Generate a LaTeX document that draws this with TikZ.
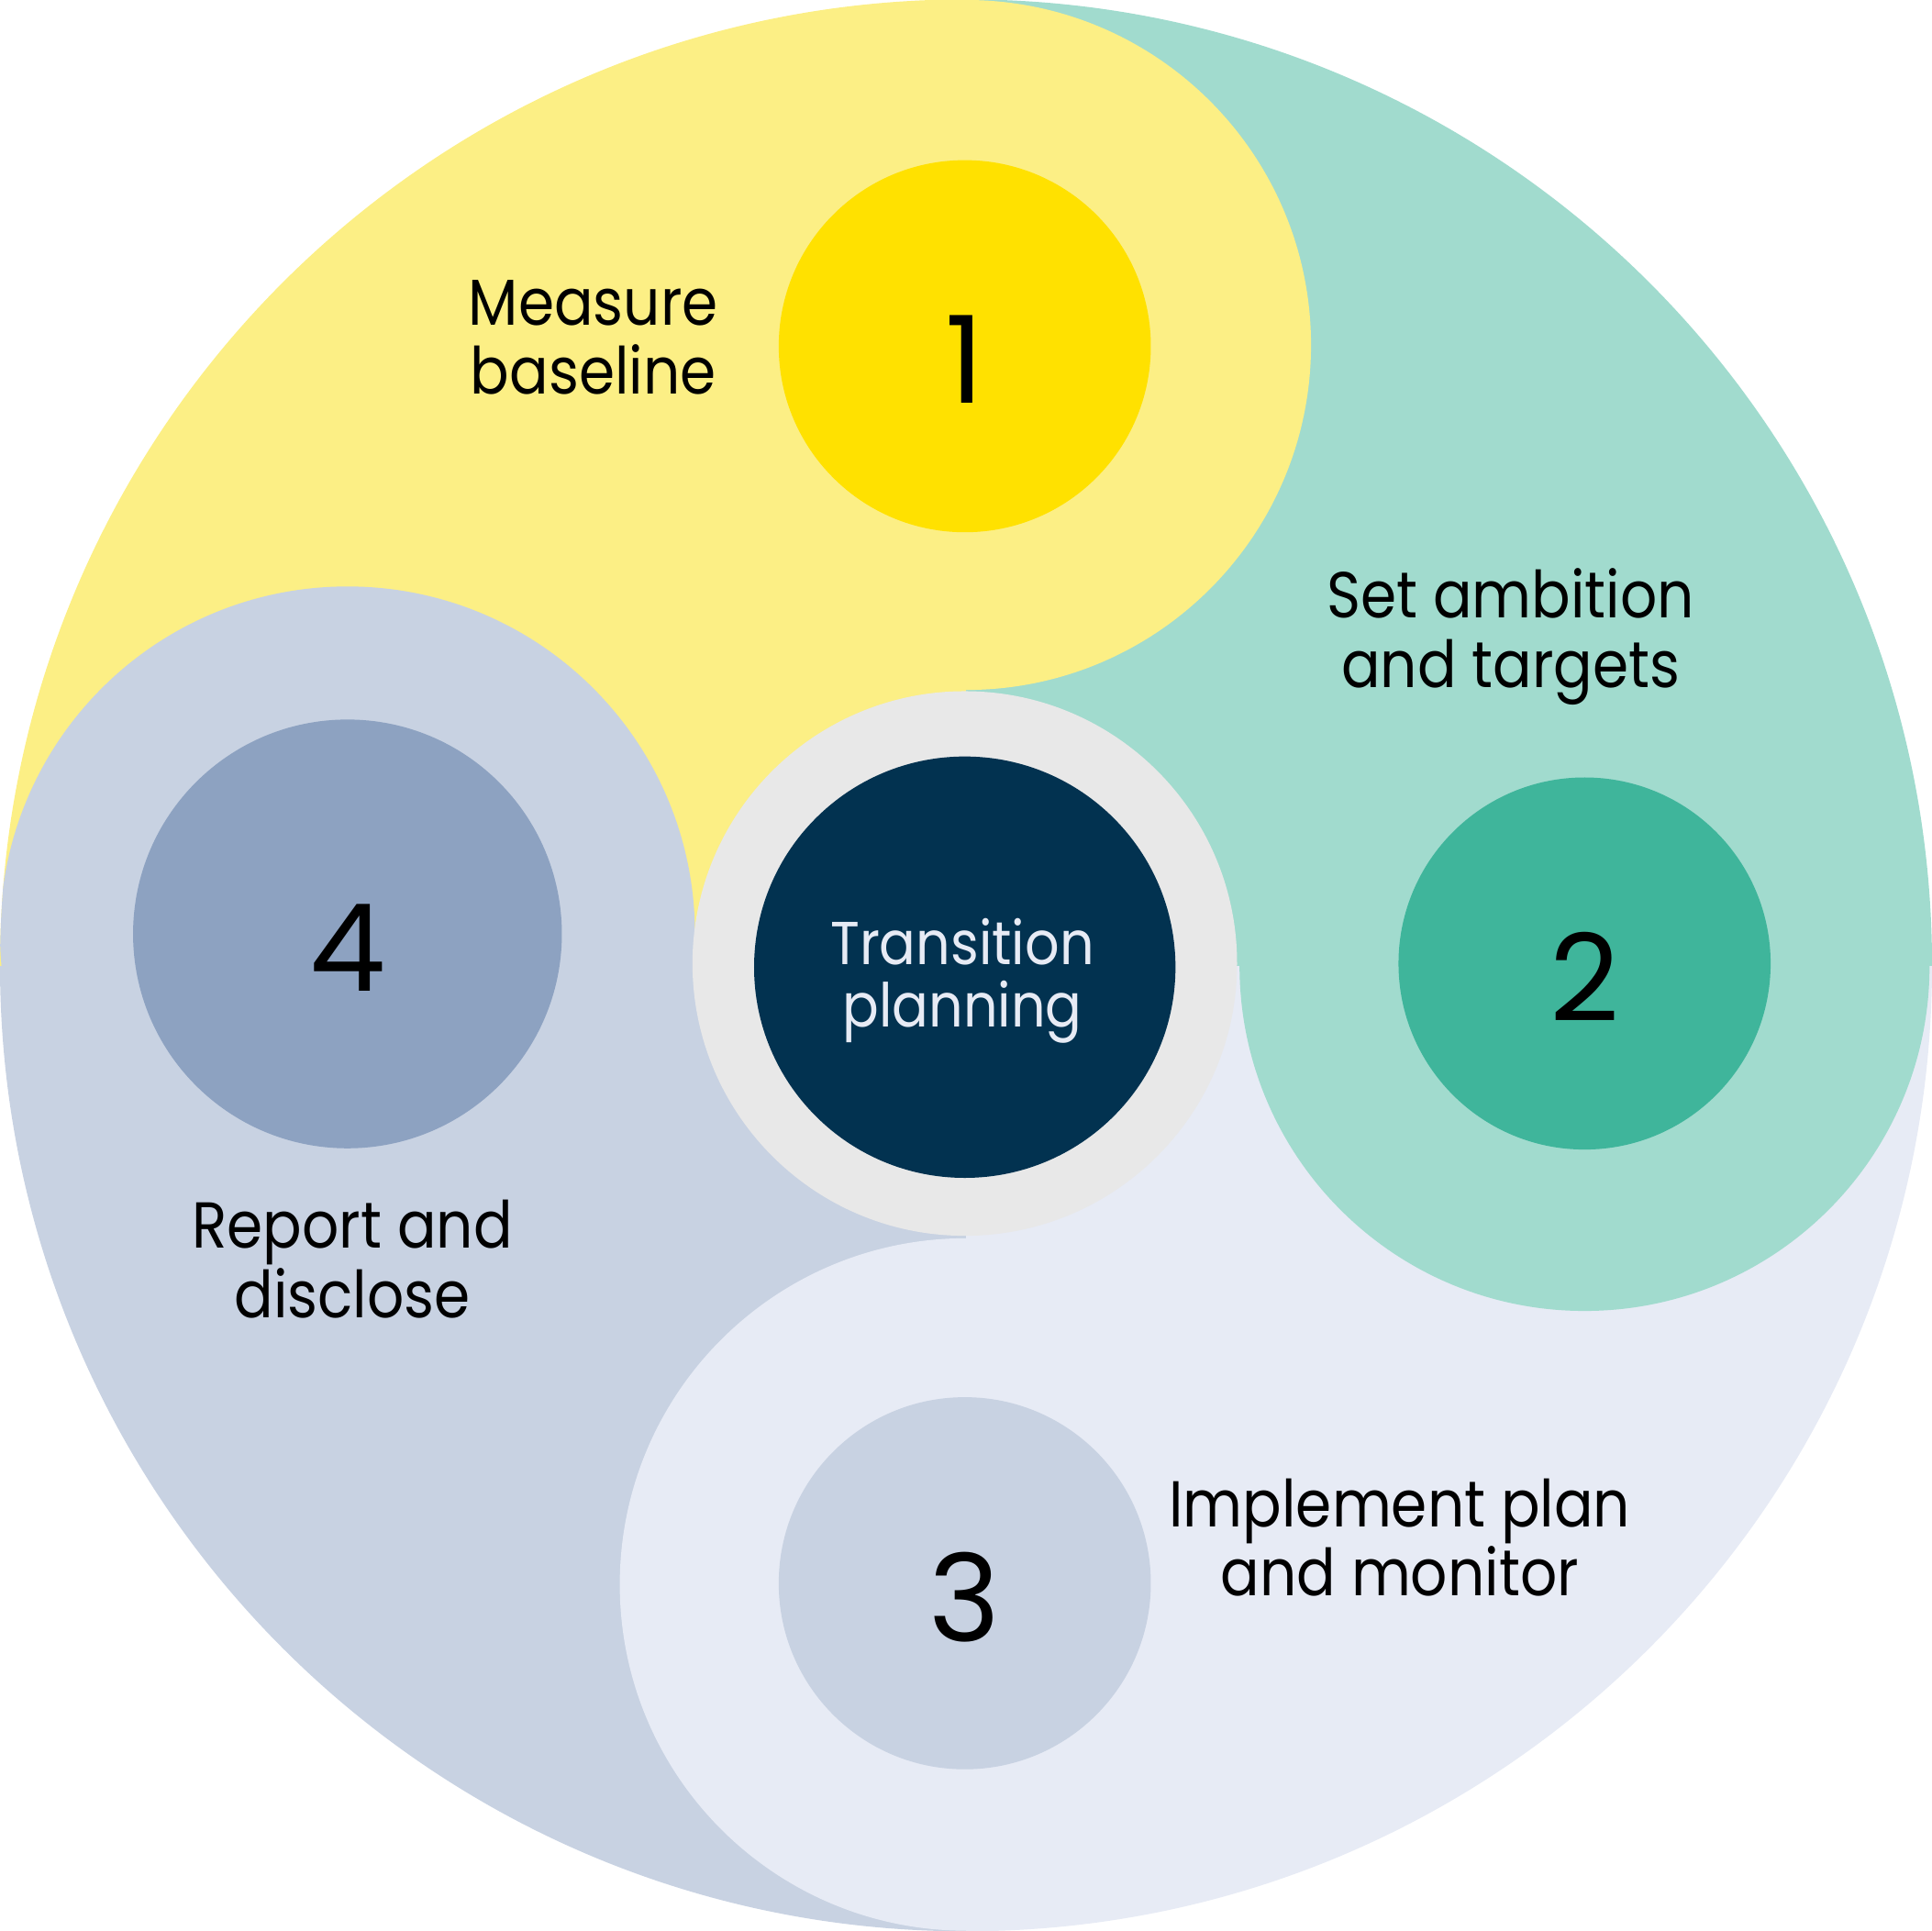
\documentclass[tikz,border=0pt]{standalone}
\usepackage{fontspec}
\setmainfont{Poppins}
\newfontfamily\labelfont[FakeStretch=0.89]{Poppins}
\usetikzlibrary{positioning}
\definecolor{yellowbg}{HTML}{FCEF85}
\definecolor{yellowdot}{HTML}{FFE100}
\definecolor{tealbg}{HTML}{A1DBCE}
\definecolor{tealdot}{HTML}{3FB59B}
\definecolor{lightbg}{HTML}{E7EBF5}
\definecolor{greybg}{HTML}{C8D2E2}
\definecolor{greydot}{HTML}{8DA2C1}
\definecolor{ringgrey}{HTML}{E8E8E8}
\definecolor{navy}{HTML}{023250}

\begin{document}
\begin{tikzpicture}[
    stepdot/.style={circle, inner sep=0pt, minimum size=3.02cm},
    digit/.style={inner sep=0pt, font=\fontsize{28}{30}\selectfont},
    steptext/.style={align=center, inner sep=0pt, font=\labelfont\fontsize{15}{16}\selectfont}]
    \useasboundingbox (0,0) rectangle (15.68,15.67);

    \begin{scope}
        \clip (7.84,7.835) circle[radius=7.84];
        \fill[yellowbg] (0,7.83) rectangle (7.84,15.67);
        \fill[tealbg] (7.84,7.83) rectangle (15.68,15.67);
        \fill[lightbg] (7.84,0) rectangle (15.68,7.83);
        \fill[greybg] (0,0) rectangle (7.84,7.83);
        % lobes
        \fill[yellowbg] (7.84,15.67) arc[start angle=90, end angle=-90, radius=2.8] -- cycle;
        \fill[tealbg] (10.06,7.83) arc[start angle=180, end angle=360, radius=2.8] -- cycle;
        \fill[lightbg] (7.84,5.62) arc[start angle=90, end angle=270, radius=2.81] -- cycle;
        \fill[greybg] (2.82,8.09) circle[radius=2.82];
    \end{scope}

    \node[circle, fill=ringgrey, inner sep=0pt, minimum size=4.42cm] (ring) at (7.83,7.85) {};
    \node[circle, fill=navy, inner sep=0pt, minimum size=3.42cm] (hub) at (7.83,7.82) {};
    \node[steptext, text=lightbg, font=\labelfont\fontsize{14}{14.5}\selectfont] (hubtext) at (7.81,7.71) {Transition\\planning};

    \node[stepdot, fill=yellowdot] (c1) at (7.83,12.86) {};
    \node[stepdot, fill=tealdot] (c2) at (12.86,7.85) {};
    \node[stepdot, fill=greybg] (c3) at (7.83,2.82) {};
    \node[stepdot, fill=greydot, minimum size=3.48cm] (c4) at (2.82,8.09) {};

    \node[digit] (n1) at ([yshift=-0.11cm]c1.center) {1};
    \node[digit] (n2) at ([yshift=-0.11cm]c2.center) {2};
    \node[digit] (n3) at ([yshift=-0.11cm]c3.center) {3};
    \node[digit] (n4) at ([yshift=-0.11cm]c4.center) {4};

    \node[steptext] (t1) at (4.815,12.93) {Measure\\baseline};
    \node[steptext] (t2) at (12.26,10.50) {Set ambition\\and targets};
    \node[steptext] (t3) at (11.36,3.19) {Implement plan\\and monitor};
    \node[steptext] (t4) at (2.86,5.45) {Report and\\disclose};
\end{tikzpicture}
\end{document}
